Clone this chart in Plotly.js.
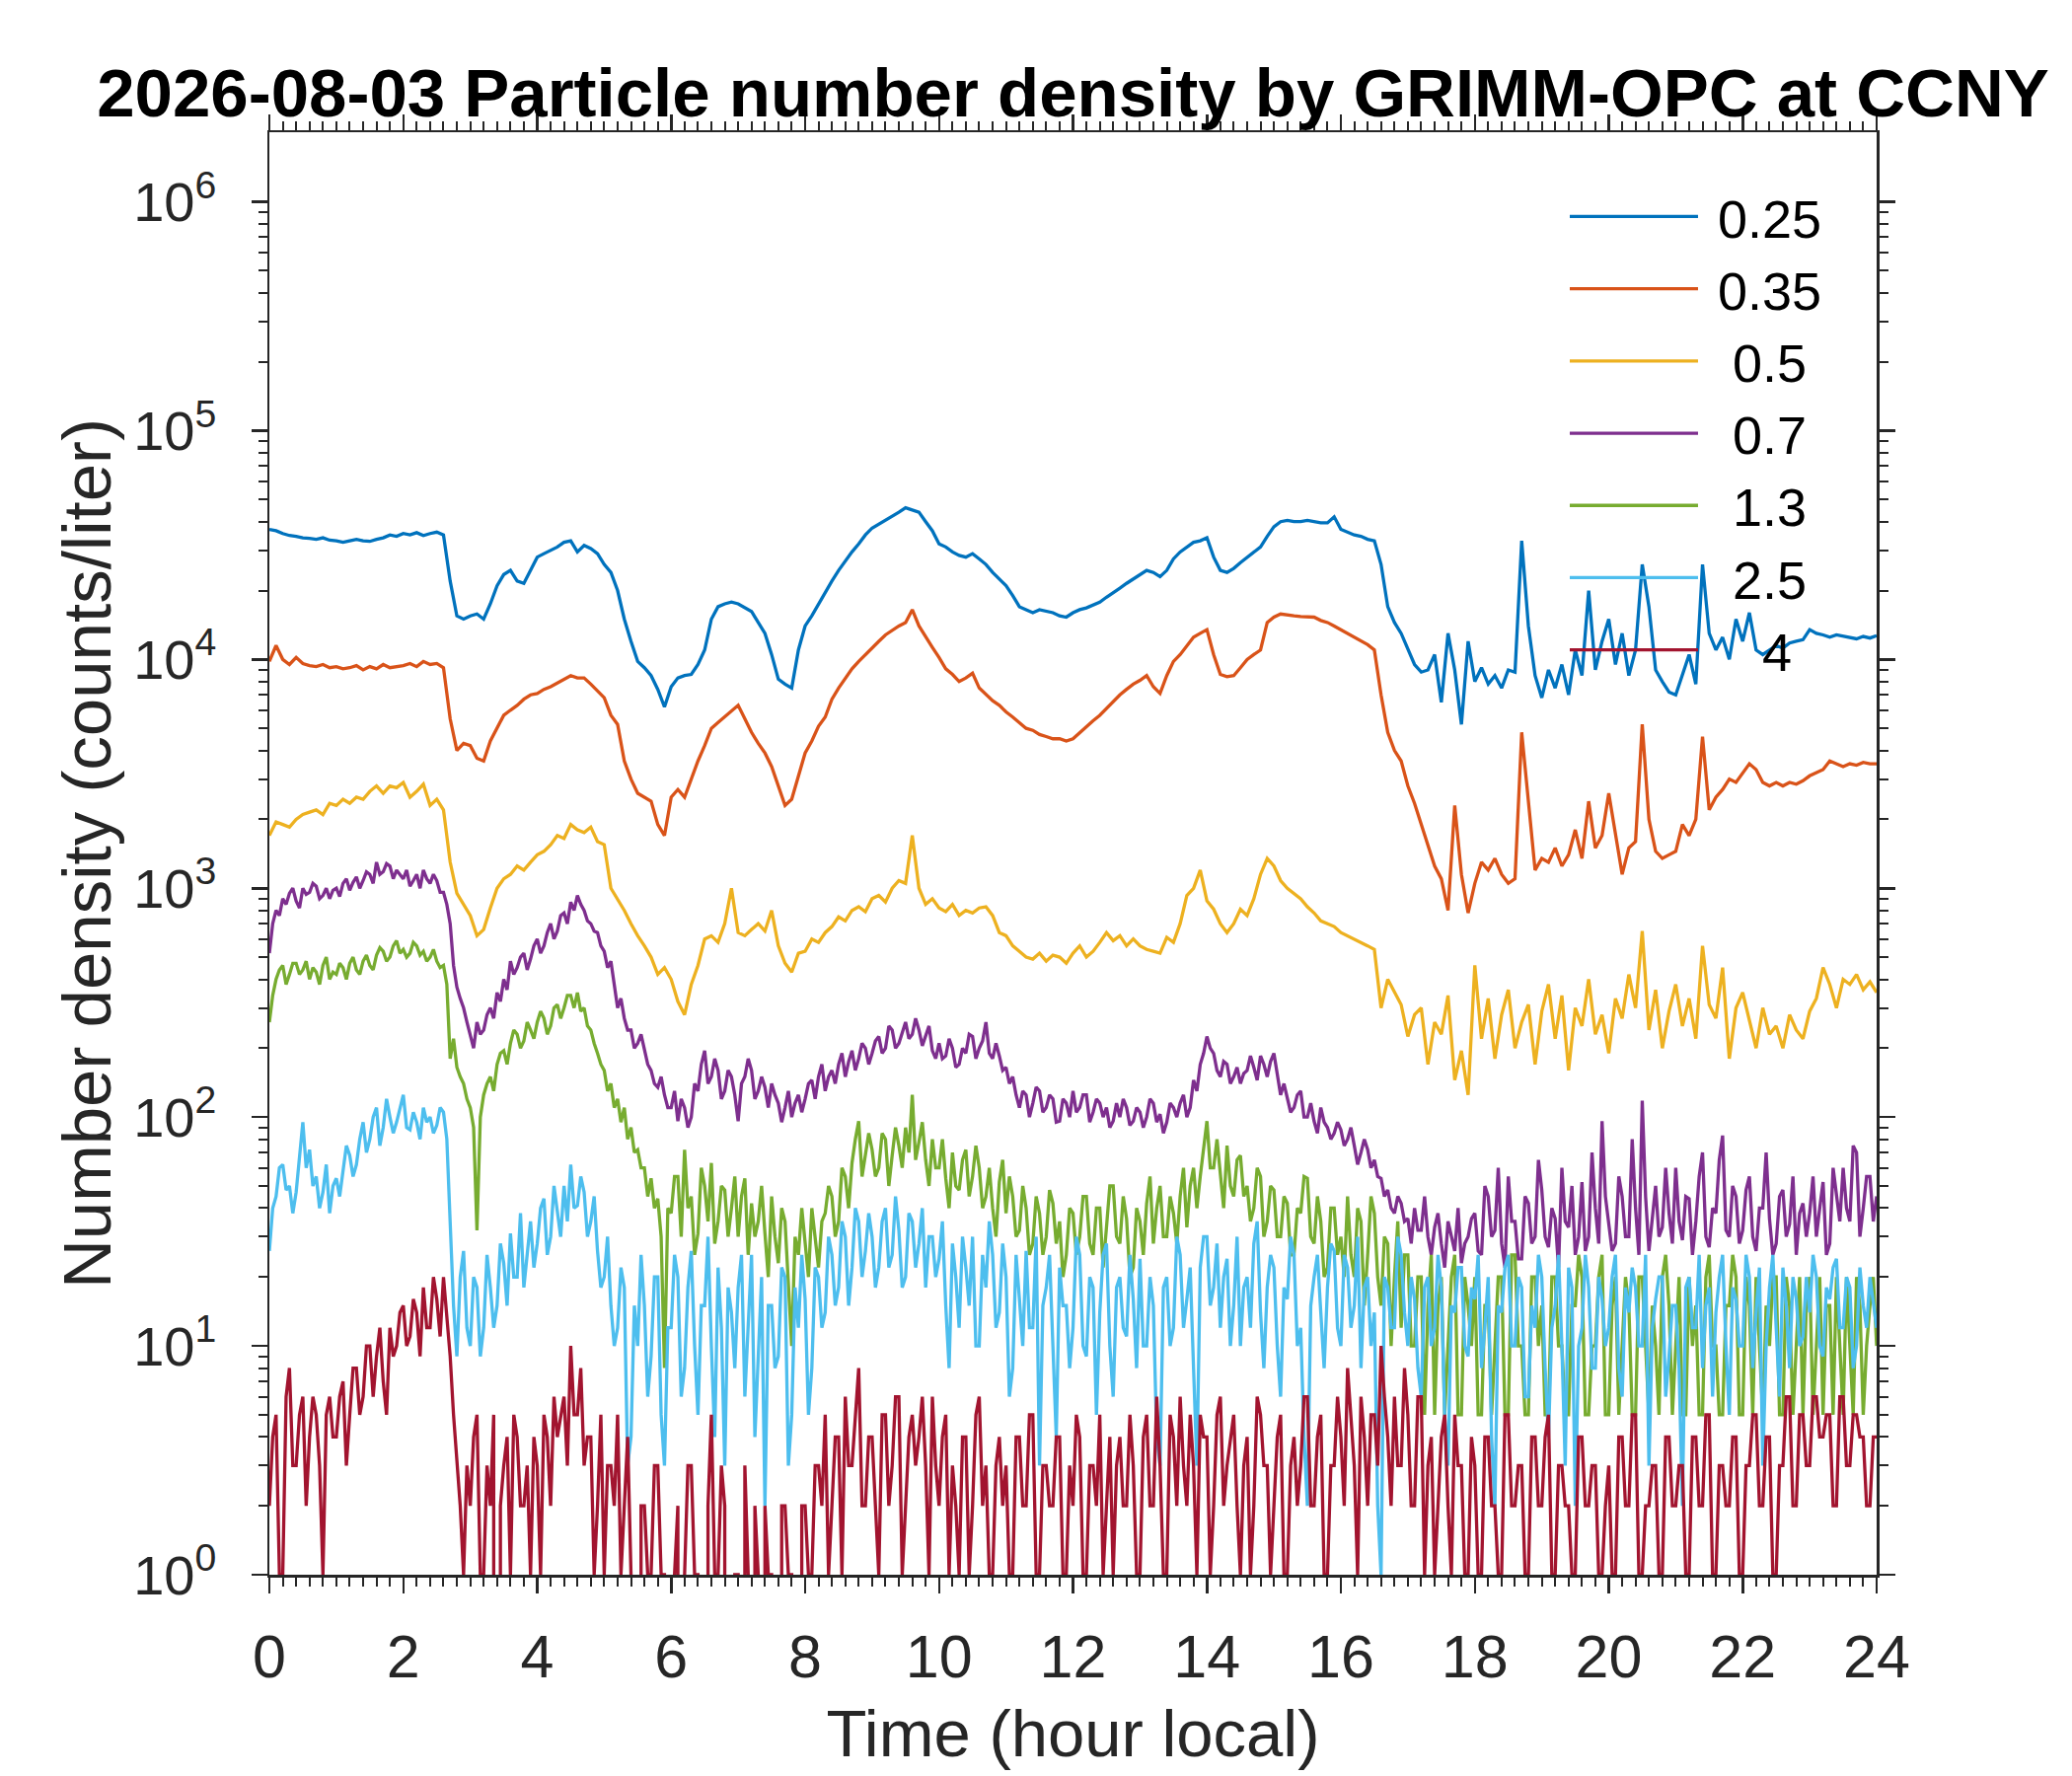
<!DOCTYPE html>
<html>
<head>
<meta charset="utf-8">
<script src="https://cdn.plot.ly/plotly-3.0.1.min.js"></script>
<style>html, body { margin: 0; padding: 0; background: #fff; }</style>
</head>
<body>
<div id="plot" style="width:2100px;height:1800px"></div>
<script>
// every series runs evenly from hour 0 to hour 24
var dayHours = 24;

var sizeLabels = ['0.25', '0.35', '0.5', '0.7', '1.3', '2.5', '4'];
var lineColors = ['#0072BD', '#D95319', '#EDB120', '#7E2F8E', '#77AC30', '#4DBEEE', '#A2142F'];

// counts/liter, 0.1 h steps, one row per hour
var n025 = [
    37000, 36500, 35500, 34800, 34500, 34000, 33800, 33500, 34000, 33200,
    33000, 32500, 33000, 33500, 33000, 32800, 33500, 34000, 35000, 34500,
    35500, 35000, 35800, 34800, 35500, 36000, 35000, 22000, 15500, 15000,
    15500, 15800, 15000, 17500, 21000, 23500, 24500, 22000, 21500, 24500,
    28000, 29000, 30000, 31000, 32500, 33000, 29500, 31500, 30500, 29000,
    26000, 24000, 20000, 15000, 12000, 9800, 9200, 8500, 7400, 6200,
    7600, 8300, 8500, 8600, 9500, 11000, 15000, 17000, 17500, 17800,
    17500, 16800, 16200, 14500, 13000, 10500, 8200, 7800, 7500, 11000,
    14000, 15500, 17500, 19500, 22000, 24500, 27000, 29500, 32000, 35000,
    37500, 39000, 40500, 42000, 44000, 46000, 45000, 44000, 40000, 36500,
    32000, 31000, 29500, 28500, 28000, 29000, 27500, 26000, 24000, 22500,
    21000, 19000, 17000, 16500, 16000, 16500, 16200, 16000, 15500, 15300,
    16000, 16500, 16800, 17300, 17800, 18700, 19500, 20500, 21500, 22500,
    23500, 24500, 24000, 23000, 24500, 27500, 29500, 31000, 32500, 33000,
    34000, 28000, 24500, 24000, 25000, 26500, 28000, 29500, 31000, 34500,
    38000, 40000, 40500, 40000, 40000, 40500, 40000, 39500, 39500, 42000,
    37000, 36000, 35000, 34500, 33500, 33000, 26000, 17000, 14500, 13000,
    11000, 9500, 8800, 9000, 10500, 6500, 13000, 9000, 5200, 12000,
    8000, 9200, 7800, 8500, 7500, 9000, 8800, 33000, 14000, 8500,
    6800, 9000, 7500, 9500, 7000, 11000, 8500, 20000, 9000, 12000,
    15000, 9500, 13000, 8500, 11000, 26000, 17000, 9000, 8000, 7200,
    7000, 8500, 10500, 7800, 26000, 13000, 11000, 12500, 10000, 15000,
    12000, 16000, 11000, 10500, 11000, 11500, 11200, 11800, 12000, 12200,
    13500, 13000, 12800, 12500, 12800, 12600, 12500, 12300, 12600, 12400,
    12700
];

var n035 = [
    9800, 11500, 10000, 9500, 10200, 9600, 9400, 9300, 9500, 9200,
    9300, 9100, 9200, 9400, 9000, 9300, 9100, 9500, 9200, 9300,
    9400, 9600, 9300, 9800, 9500, 9600, 9200, 5500, 4000, 4300,
    4200, 3700, 3600, 4400, 5000, 5700, 6000, 6300, 6700, 7000,
    7100, 7400, 7600, 7900, 8200, 8500, 8300, 8300, 7800, 7300,
    6800, 5700, 5200, 3600, 3000, 2600, 2500, 2400, 1900, 1700,
    2500, 2700, 2500, 3000, 3600, 4200, 5000, 5300, 5600, 5900,
    6300, 5500, 4800, 4300, 3900, 3400, 2800, 2300, 2450, 3100,
    3900, 4400, 5100, 5600, 6700, 7500, 8300, 9100, 9800, 10500,
    11300, 12000, 12800, 13400, 14000, 14500, 16500, 14000, 12500, 11300,
    10200, 9100, 8600, 8000, 8300, 8700, 7500, 7000, 6600, 6300,
    5900, 5600, 5300, 5000, 4900, 4700, 4600, 4500, 4500, 4400,
    4500, 4800, 5100, 5400, 5700, 6100, 6500, 7000, 7400, 7800,
    8100, 8500, 7600, 7100, 8500, 9800, 10500, 11500, 12500, 13000,
    13500, 10500, 8600, 8400, 8500, 9200, 10000, 10500, 11000, 14500,
    15300, 15800, 15600, 15500, 15400, 15300, 15300, 14800, 14500, 14000,
    13500, 13000, 12500, 12000, 11600, 11000, 7000, 4800, 4000, 3600,
    2800, 2350, 1900, 1550, 1250, 1100, 800, 2300, 1150, 780,
    1050, 1300, 1200, 1350, 1150, 1050, 1100, 4800, 2300, 1200,
    1350, 1300, 1500, 1250, 1400, 1800, 1350, 2400, 1500, 1700,
    2600, 1700, 1150, 1500, 1600, 5200, 2000, 1450, 1350, 1400,
    1450, 1900, 1700, 2000, 4600, 2200, 2500, 2700, 3000, 2900,
    3200, 3500, 3300, 2900, 2800, 2900, 2800, 2900, 2850, 2950,
    3100, 3200, 3300, 3600, 3500, 3400, 3500, 3450, 3550, 3500,
    3500
];

var n05 = [
    1700, 1950, 1900, 1850, 2000, 2100, 2150, 2200, 2100, 2350,
    2300, 2450, 2350, 2500, 2450, 2650, 2800, 2600, 2800, 2750,
    2900, 2500, 2650, 2850, 2300, 2450, 2200, 1300, 950, 850,
    760, 620, 660, 820, 1000, 1100, 1150, 1250, 1200, 1300,
    1400, 1450, 1550, 1700, 1650, 1900, 1800, 1750, 1850, 1600,
    1550, 1000, 900, 800, 700, 620, 560, 500, 420, 450,
    400, 320, 280, 380, 460, 600, 620, 580, 700, 1000,
    640, 620, 660, 700, 650, 800, 560, 470, 430, 520,
    530, 600, 580, 640, 680, 750, 720, 800, 830, 790,
    900, 930, 870, 1000, 1080, 1050, 1700, 1000, 850, 900,
    820, 790, 850, 760, 800, 780, 820, 830, 760, 640,
    620, 560, 530, 500, 490, 520, 480, 510, 500, 470,
    520, 560, 500, 530, 580, 640, 590, 620, 560, 600,
    560, 540, 530, 520, 610, 580, 700, 930, 1000, 1200,
    880, 810, 700, 640, 700, 810, 760, 900, 1150, 1350,
    1250, 1080, 1000, 950, 900, 830, 780, 720, 700, 680,
    640, 620, 600, 580, 560, 540, 300, 400, 350, 310,
    225, 280, 300, 170, 260, 230, 340, 145, 195, 125,
    460, 220, 330, 180, 280, 360, 200, 260, 310, 170,
    290, 380, 220, 340, 160, 300, 250, 400, 230, 280,
    190, 330, 270, 420, 300, 650, 240, 360, 200, 290,
    380, 250, 330, 220, 560, 310, 270, 450, 180, 300,
    350, 260, 200, 300, 230, 250, 200, 280, 240, 220,
    290, 330, 450, 380, 300, 400, 380, 420, 360, 390,
    350
];

// noisier channels, 0.05 h steps, one row per hour
var n07 = [
    520, 700, 800, 760, 900, 850, 950, 1000, 880, 820, 1000, 940, 960, 1050, 1020, 900, 930, 1000, 900, 980,
    1000, 920, 1050, 1100, 980, 1060, 1120, 1000, 1080, 1180, 1150, 1050, 1300, 1150, 1180, 1280, 1250, 1100, 1200, 1150,
    1100, 1200, 1020, 1080, 1150, 1000, 1200, 1100, 1050, 1150, 1080, 960, 960, 850, 700, 460, 370, 330, 300, 260,
    225, 200, 260, 230, 240, 280, 300, 270, 350, 320, 400, 360, 480, 420, 450, 500, 520, 440, 490, 560,
    600, 520, 560, 640, 700, 600, 650, 760, 780, 700, 870, 800, 930, 850, 800, 720, 700, 650, 640, 560,
    530, 450, 480, 380, 300, 330, 270, 240, 240, 200, 210, 230, 195, 170, 160, 140, 135, 150, 125, 110,
    110, 130, 96, 120, 110, 90, 100, 140, 130, 170, 195, 140, 150, 180, 160, 120, 130, 160, 150, 125,
    96, 140, 150, 180, 160, 120, 130, 150, 135, 110, 140, 125, 115, 95, 110, 130, 100, 115, 125, 105,
    120, 140, 145, 120, 150, 170, 130, 150, 160, 140, 170, 190, 150, 175, 195, 160, 180, 210, 200, 170,
    190, 215, 225, 190, 200, 250, 240, 200, 210, 235, 260, 220, 230, 270, 240, 205, 225, 250, 195, 180,
    210, 180, 185, 220, 200, 165, 170, 200, 190, 230, 225, 180, 200, 215, 260, 190, 180, 210, 185, 160,
    165, 140, 150, 125, 110, 130, 125, 100, 115, 135, 130, 105, 110, 125, 120, 95, 96, 120, 115, 100,
    130, 105, 110, 125, 125, 95, 105, 120, 115, 100, 110, 90, 96, 115, 100, 120, 110, 92, 96, 110,
    105, 90, 100, 120, 115, 95, 103, 85, 95, 115, 110, 100, 115, 125, 100, 110, 145, 130, 170, 190,
    225, 200, 190, 160, 150, 175, 170, 140, 150, 165, 140, 155, 160, 185, 165, 145, 185, 170, 150, 175,
    190, 150, 125, 140, 120, 105, 110, 125, 130, 100, 100, 115, 96, 85, 110, 95, 90, 80, 85, 95,
    88, 75, 80, 90, 75, 62, 70, 80, 72, 60, 65, 55, 54, 45, 48, 40, 38, 45, 42, 35,
    36, 28, 40, 32, 32, 45, 30, 25, 33, 38, 28, 22, 35, 30, 26, 40, 23, 28, 30, 36,
    38, 26, 25, 50, 45, 30, 32, 60, 28, 22, 55, 35, 35, 24, 24, 45, 42, 28, 30, 65,
    48, 30, 27, 40, 36, 22, 60, 35, 33, 50, 25, 30, 52, 26, 30, 70, 40, 28, 96, 45,
    35, 26, 28, 55, 45, 30, 30, 80, 40, 25, 118, 45, 26, 35, 50, 30, 33, 60, 38, 28,
    60, 35, 29, 45, 44, 25, 35, 55, 70, 30, 27, 40, 38, 65, 83, 32, 30, 50, 45, 28,
    32, 48, 55, 30, 26, 40, 40, 70, 36, 25, 28, 45, 48, 30, 34, 55, 25, 38, 42, 30,
    38, 55, 30, 40, 52, 25, 28, 60, 45, 35, 60, 40, 35, 75, 70, 30, 40, 55, 55, 35,
    45
];

var n13 = [
    260, 340, 400, 440, 460, 380, 420, 470, 470, 420, 440, 480, 400, 450, 430, 380, 460, 500, 400, 430,
    420, 470, 450, 400, 470, 500, 440, 420, 480, 510, 460, 440, 510, 550, 530, 480, 500, 560, 590, 520,
    540, 500, 520, 580, 560, 510, 530, 480, 500, 540, 480, 450, 460, 380, 180, 220, 165, 150, 140, 120,
    110, 90, 32, 100, 125, 140, 150, 130, 170, 190, 195, 170, 210, 240, 230, 200, 215, 260, 240, 220,
    260, 290, 270, 230, 250, 300, 310, 270, 300, 340, 340, 300, 350, 290, 300, 250, 240, 210, 190, 170,
    160, 130, 140, 110, 120, 95, 110, 80, 90, 70, 72, 60, 60, 45, 54, 40, 44, 30, 8, 40,
    38, 55, 55, 30, 72, 40, 45, 25, 31, 60, 50, 35, 63, 28, 35, 50, 48, 30, 40, 55,
    30, 45, 54, 25, 42, 30, 35, 50, 31, 20, 45, 30, 23, 40, 35, 18, 10, 30, 25, 40,
    28, 20, 40, 30, 22, 35, 38, 50, 45, 30, 35, 60, 55, 40, 63, 80, 96, 55, 70, 85,
    72, 55, 60, 85, 80, 50, 68, 90, 75, 60, 90, 70, 125, 65, 78, 95, 65, 50, 80, 60,
    60, 80, 54, 40, 70, 50, 48, 65, 72, 45, 55, 75, 60, 40, 45, 60, 40, 30, 52, 65,
    38, 55, 45, 30, 32, 50, 40, 25, 28, 45, 38, 25, 30, 48, 42, 28, 35, 20, 25, 40,
    38, 25, 30, 45, 45, 28, 25, 40, 40, 22, 33, 50, 50, 30, 28, 45, 36, 20, 22, 40,
    35, 25, 42, 55, 28, 40, 50, 30, 30, 45, 38, 28, 45, 60, 33, 50, 60, 40, 55, 75,
    96, 60, 60, 80, 54, 40, 75, 50, 45, 65, 68, 45, 50, 35, 40, 60, 55, 30, 35, 50,
    48, 30, 30, 45, 42, 25, 25, 40, 38, 55, 54, 30, 28, 45, 35, 20, 22, 40, 40, 25,
    30, 20, 45, 25, 20, 40, 35, 15, 25, 45, 38, 20, 15, 30, 28, 10, 20, 35, 12, 25,
    25, 10, 10, 20, 20, 5, 15, 25, 5, 15, 20, 5, 10, 20, 25, 5, 5, 20, 15, 10,
    20, 5, 5, 15, 15, 5, 10, 20, 20, 5, 5, 25, 25, 10, 10, 5, 5, 20, 20, 10,
    15, 5, 5, 20, 20, 10, 10, 5, 5, 15, 15, 25, 20, 5, 5, 10, 10, 20, 25, 5,
    5, 15, 20, 5, 10, 20, 15, 5, 5, 20, 20, 10, 5, 15, 10, 5, 20, 25, 15, 5,
    10, 20, 5, 5, 20, 10, 15, 5, 5, 20, 25, 10, 10, 5, 5, 15, 15, 25, 20, 5,
    5, 20, 15, 5, 20, 10, 5, 15, 10, 20, 20, 5, 5, 20, 15, 5, 10, 20, 5, 15,
    20, 5, 10, 20, 5, 15, 15, 5, 20, 10, 5, 20, 10, 5, 20, 15, 5, 10, 15, 20,
    10
];

var n25 = [
    26, 40, 45, 60, 62, 48, 50, 38, 47, 70, 95, 60, 72, 50, 55, 40, 47, 62, 38, 50,
    54, 45, 60, 75, 68, 55, 62, 80, 95, 70, 80, 100, 110, 75, 90, 120, 100, 85, 95, 110,
    125, 90, 88, 105, 95, 80, 110, 95, 100, 85, 92, 110, 105, 80, 31, 15, 9, 20, 26, 12,
    10, 20, 18, 9, 12, 25, 18, 12, 15, 28, 23, 15, 31, 20, 20, 38, 18, 25, 35, 22,
    28, 40, 44, 25, 30, 50, 38, 30, 50, 35, 62, 40, 41, 55, 47, 30, 35, 45, 26, 18,
    20, 30, 15, 10, 12, 22, 18, 3, 4, 15, 10, 25, 15, 6, 9, 20, 20, 5, 3, 12,
    12, 25, 20, 6, 8, 18, 26, 10, 5, 15, 15, 30, 10, 4, 22, 12, 3, 18, 14, 8,
    18, 25, 6, 12, 25, 4, 10, 20, 2, 15, 15, 8, 9, 22, 20, 3, 5, 18, 12, 25,
    16, 5, 8, 22, 20, 12, 14, 30, 25, 15, 18, 35, 30, 15, 22, 40, 35, 20, 26, 38,
    30, 18, 22, 35, 40, 22, 25, 45, 32, 18, 20, 38, 35, 22, 28, 40, 18, 30, 30, 20,
    24, 35, 15, 8, 28, 20, 12, 30, 22, 15, 30, 10, 10, 25, 18, 35, 25, 12, 14, 28,
    20, 6, 8, 25, 16, 10, 26, 12, 12, 30, 3, 15, 18, 25, 10, 4, 22, 15, 15, 8,
    12, 30, 25, 10, 9, 20, 18, 5, 14, 25, 28, 10, 6, 18, 20, 12, 11, 25, 16, 8,
    24, 10, 10, 20, 15, 4, 3, 18, 20, 10, 12, 30, 25, 12, 16, 22, 8, 3, 22, 30,
    30, 15, 18, 28, 12, 20, 24, 10, 15, 30, 10, 18, 20, 12, 28, 35, 14, 8, 18, 25,
    22, 10, 6, 18, 16, 30, 25, 10, 12, 4, 2, 15, 20, 25, 14, 8, 18, 28, 26, 12,
    10, 25, 22, 12, 15, 30, 8, 18, 20, 10, 14, 2, 1, 20, 18, 12, 12, 30, 25, 14,
    10, 20, 16, 8, 6, 18, 20, 10, 12, 25, 18, 5, 3, 15, 14, 22, 22, 10, 9, 18,
    16, 25, 8, 12, 20, 4, 2, 15, 14, 22, 25, 10, 10, 20, 18, 6, 6, 15, 12, 25,
    20, 8, 4, 12, 15, 25, 10, 3, 22, 18, 2, 10, 12, 25, 18, 8, 8, 20, 16, 10,
    12, 20, 25, 8, 6, 18, 14, 22, 18, 10, 10, 25, 3, 12, 16, 20, 20, 6, 9, 15,
    15, 8, 2, 18, 20, 12, 12, 25, 8, 15, 18, 6, 14, 20, 25, 10, 5, 18, 16, 10,
    10, 25, 20, 8, 14, 22, 3, 10, 18, 25, 12, 6, 22, 15, 8, 20, 16, 10, 11, 20,
    14, 25, 20, 10, 9, 18, 16, 22, 24, 12, 12, 20, 18, 8, 10, 22, 15, 12, 20, 15,
    12
];

var n4 = [
    2, 4, 5, 1, 1, 6, 8, 3, 3, 5, 6, 2, 4, 6, 5, 3, 1, 5, 6, 4,
    4, 6, 7, 3, 5, 8, 8, 5, 6, 10, 10, 6, 9, 12, 7, 5, 12, 9, 10, 14,
    15, 10, 11, 16, 14, 9, 18, 12, 12, 20, 16, 11, 20, 14, 9, 5, 3, 2, 1, 3,
    2, 4, 5, 1, 1, 3, 2, 5, 0, 2, 3, 4, 1, 5, 4, 2, 2, 3, 1, 4,
    3, 1, 5, 4, 2, 6, 4, 5, 6, 3, 10, 5, 5, 8, 3, 4, 4, 1, 2, 5,
    1, 3, 3, 2, 5, 1, 2, 4, 1, 0, 0, 2, 2, 1, 1, 3, 3, 1, 1, 0,
    0, 1, 2, 0, 1, 3, 3, 1, 1, 0, 0, 2, 5, 1, 1, 3, 2, 0, 0, 1,
    1, 0, 3, 1, 0, 2, 1, 0, 2, 1, 1, 0, 0, 2, 2, 1, 1, 0, 0, 2,
    2, 1, 1, 3, 3, 2, 5, 1, 2, 4, 4, 1, 6, 3, 3, 5, 8, 2, 2, 4,
    4, 2, 1, 5, 5, 2, 3, 6, 6, 1, 2, 4, 5, 3, 4, 6, 3, 1, 6, 3,
    2, 4, 5, 1, 3, 2, 1, 4, 4, 1, 2, 5, 6, 2, 3, 1, 1, 3, 4, 2,
    3, 1, 1, 4, 4, 2, 2, 5, 5, 1, 1, 3, 3, 2, 2, 4, 4, 1, 1, 3,
    2, 5, 4, 1, 1, 3, 3, 2, 5, 1, 2, 4, 1, 3, 4, 2, 2, 5, 3, 1,
    1, 4, 5, 2, 2, 6, 3, 1, 1, 5, 4, 2, 6, 3, 2, 5, 3, 1, 5, 4,
    4, 1, 2, 5, 6, 2, 3, 4, 5, 2, 1, 3, 4, 1, 2, 6, 5, 3, 3, 1,
    2, 4, 5, 1, 1, 3, 4, 2, 3, 6, 6, 2, 2, 4, 5, 1, 1, 3, 3, 6,
    4, 2, 8, 5, 3, 1, 6, 4, 2, 5, 5, 3, 10, 6, 4, 2, 6, 3, 3, 8,
    5, 2, 2, 6, 6, 1, 3, 4, 1, 2, 4, 5, 2, 1, 5, 3, 3, 1, 1, 4,
    3, 1, 1, 4, 4, 2, 2, 1, 1, 5, 5, 2, 2, 3, 3, 1, 1, 4, 4, 2,
    2, 4, 5, 1, 1, 3, 3, 2, 2, 1, 1, 4, 4, 2, 2, 3, 3, 1, 1, 2,
    3, 1, 1, 4, 4, 2, 2, 5, 5, 1, 1, 2, 2, 3, 3, 1, 1, 4, 4, 2,
    2, 3, 3, 1, 1, 4, 4, 2, 2, 5, 5, 1, 1, 3, 3, 2, 2, 4, 4, 1,
    1, 3, 3, 5, 5, 2, 2, 4, 4, 1, 1, 3, 3, 6, 6, 2, 2, 5, 5, 3,
    3, 6, 6, 4, 4, 5, 5, 2, 2, 6, 6, 3, 3, 5, 5, 4, 4, 2, 2, 4,
    4
];

var yDecades = [0, 1, 2, 3, 4, 5, 6];

(function (document, window) {
    document.addEventListener("DOMContentLoaded", function () {

        var series = [n025, n035, n05, n07, n13, n25, n4];
        var fontName = 'Liberation Sans, Arial, Helvetica, sans-serif';
        var axisColor = '#262626';

        // time axis for a series with evenly spaced samples over the day
        function hoursFor(values) {
            var h = [];
            var step = dayHours / (values.length - 1);
            for (var i = 0; i < values.length; i++) {
                h.push(Math.round(i * step * 1000) / 1000);
            }
            return h;
        }

        // legend text is centred in the original: one leading space for all,
        // plus one per missing character
        var plotData = [];
        for (var s = 0; s < series.length; s++) {
            var pad = '\u00a0';
            for (var p = sizeLabels[s].length; p < 4; p++) pad += '\u00a0';
            plotData.push({
                name: pad + sizeLabels[s],
                x: hoursFor(series[s]),
                y: series[s],
                type: 'scatter',
                mode: 'lines',
                line: { color: lineColors[s], width: 3.3 },
                hoverinfo: 'skip'
            });
        }

        var yTickVals = [], yTickText = [], yMinorVals = [];
        yDecades.forEach(function (d) {
            yTickVals.push(Math.pow(10, d));
            yTickText.push('10<sup>' + d + '</sup>');
            for (var m = 2; m <= 9; m++) {
                if (m * Math.pow(10, d) < 2e6) yMinorVals.push(m * Math.pow(10, d));
            }
        });

        var layout = {
            width: 2100,
            height: 1800,
            margin: { l: 273, r: 198, t: 134, b: 204, pad: 0 },
            paper_bgcolor: '#ffffff',
            plot_bgcolor: '#ffffff',
            font: { family: fontName, color: axisColor },
            title: {
                text: '2026-08-03 Particle number density by GRIMM-OPC at CCNY',
                font: { family: fontName, size: 69, color: '#000000', weight: 700 },
                x: 0.5, xref: 'paper', xanchor: 'center',
                y: 0.948, yref: 'container', yanchor: 'middle'
            },
            xaxis: {
                range: [0, 24],
                tickmode: 'linear', tick0: 0, dtick: 2,
                ticks: 'outside', ticklen: 16, tickwidth: 2.5, tickcolor: axisColor,
                showline: true, linecolor: axisColor, linewidth: 2.5, mirror: 'ticks',
                showgrid: false, zeroline: false,
                tickfont: { family: fontName, size: 61, color: axisColor },
                ticklabelstandoff: 12,
                minor: { tick0: 0, dtick: 0.2, ticks: 'outside', ticklen: 9, tickwidth: 2, tickcolor: axisColor, showgrid: false },
                title: { text: 'Time (hour local)', font: { family: fontName, size: 67, color: axisColor }, standoff: 22 }
            },
            yaxis: {
                type: 'log',
                range: [0, 6.304],
                tickmode: 'array', tickvals: yTickVals, ticktext: yTickText,
                ticks: 'outside', ticklen: 16, tickwidth: 2.5, tickcolor: axisColor,
                showline: true, linecolor: axisColor, linewidth: 2.5, mirror: 'ticks',
                showgrid: false, zeroline: false,
                tickfont: { family: fontName, size: 56, color: axisColor },
                ticklabelstandoff: 24,
                minor: { tickmode: 'array', tickvals: yMinorVals, ticks: 'outside', ticklen: 9, tickwidth: 2, tickcolor: axisColor, showgrid: false },
                title: { text: 'Number density (counts/liter)', font: { family: fontName, size: 69, color: axisColor }, standoff: 0 }
            },
            showlegend: true,
            legend: {
                x: 0.806, xanchor: 'left',
                y: 0.97, yanchor: 'top',
                bgcolor: 'rgba(0,0,0,0)', borderwidth: 0,
                font: { family: fontName, size: 54, color: '#000000' },
                itemwidth: 130
            }
        };

        Plotly.newPlot('plot', plotData, layout, { displayModeBar: false, staticPlot: true });
    });
})(document, window);
</script>
</body>
</html>
